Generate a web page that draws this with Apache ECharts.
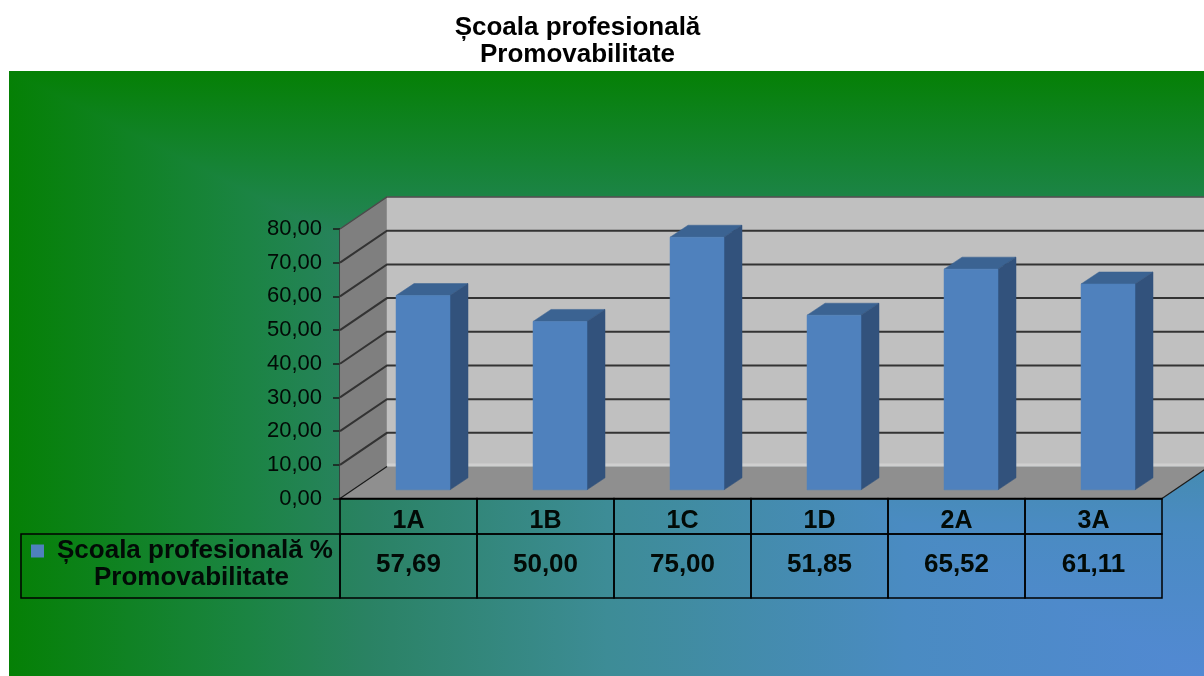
<!DOCTYPE html>
<html>
<head>
<meta charset="utf-8">
<style>html,body{margin:0;padding:0;background:#fff}#c{width:1204px;height:676px}</style>
<script src="https://cdn.jsdelivr.net/npm/echarts@6/dist/echarts.min.js"></script>
</head>
<body>
<div id="c"></div>
<script>
const titleText = 'Școala profesională\nPromovabilitate';
const seriesName = 'Școala profesională %';
const seriesName2 = 'Promovabilitate';
const categories = ['1A', '1B', '1C', '1D', '2A', '3A'];
const promovabilitate = [57.69, 50.00, 75.00, 51.85, 65.52, 61.11];
const yTicks = [0, 10, 20, 30, 40, 50, 60, 70, 80];

const FONT = '"Liberation Sans", Arial, sans-serif';
const TXT = '#020a06';
const DEPTH = [47, -32];
const stops = [
  { offset: 0, color: '#058005' },
  { offset: 0.2, color: '#1b8443' },
  { offset: 0.3, color: '#2a8263' },
  { offset: 0.5, color: '#3d8c96' },
  { offset: 0.75, color: '#4a8bc2' },
  { offset: 1, color: '#5289d3' }
];
const fmt = v => v.toFixed(2).replace('.', ',');
const poly = (pts, fill, z) => ({ type: 'polygon', shape: { points: pts }, style: { fill: fill, stroke: fill, lineWidth: 0.5 }, z2: z || 0 });
const line = (pts, color, w) => ({ type: 'polyline', shape: { points: pts }, style: { stroke: color, lineWidth: w, fill: null } });

const chart = echarts.init(document.getElementById('c'), null, { renderer: 'canvas' });
chart.setOption({
  animation: false,
  backgroundColor: '#ffffff',
  title: {
    text: titleText, left: 572.5, top: 9, textAlign: 'center',
    textStyle: { fontFamily: FONT, fontSize: 26, fontWeight: 'bold', color: '#000', lineHeight: 27 }
  },
  legend: {
    data: [seriesName], left: 31, top: 538, itemWidth: 13, itemHeight: 13, itemGap: 0,
    icon: 'rect', padding: 0, selectedMode: false,
    textStyle: { fontFamily: FONT, fontSize: 26, fontWeight: 'bold', color: TXT, padding: [0, 0, 0, 8] }
  },
  grid: { left: 340, top: 229, width: 822, height: 269.5 },
  xAxis: {
    type: 'category', data: categories,
    axisLine: { show: true, lineStyle: { color: '#000', width: 1.5 } },
    axisTick: { show: false },
    axisLabel: { margin: 10, interval: 0, fontFamily: FONT, fontSize: 25, fontWeight: 'bold', color: TXT }
  },
  yAxis: {
    type: 'value', min: 0, max: 80, interval: 10,
    axisLine: { show: true, lineStyle: { color: '#1a1a1a', width: 1.5 } },
    axisTick: { show: true, length: 7, lineStyle: { color: '#1a1a1a', width: 1.5 } },
    splitLine: { show: false },
    axisLabel: { margin: 18, formatter: fmt, fontFamily: FONT, fontSize: 22, color: TXT, padding: [3, 0, 0, 0] }
  },
  graphic: [
    { type: 'rect', z: 0, shape: { x: 9, y: 71, width: 1195, height: 605 },
      style: { fill: { type: 'linear', x: 0, y: 71, x2: 0, y2: 676, global: true, colorStops: stops } } },
    { type: 'polygon', z: 0, shape: { points: [[9, 71], [1204, 676], [9, 676]] },
      style: { fill: { type: 'linear', x: 9, y: 0, x2: 1204, y2: 0, global: true, colorStops: stops } } },
    { type: 'rect', z: 3, shape: { x: 21, y: 534, width: 319, height: 64 },
      style: { fill: 'transparent', stroke: '#000', lineWidth: 1.5 } },
    { type: 'text', z: 5, x: 191.5, y: 578,
      style: { text: seriesName2, fontFamily: FONT, fontSize: 26, fontWeight: 'bold', fill: TXT, textAlign: 'center', textVerticalAlign: 'middle' } }
  ],
  series: [
    { // walls and floor
      type: 'custom', silent: true, z: 1, data: [[0, 0]], clip: false, encode: { x: 0, y: 1 },
      renderItem: (p, api) => {
        const band = api.size([1, 0])[0];
        const x0 = api.coord([0, 0])[0] - band / 2;
        const x1 = api.coord([categories.length - 1, 0])[0] + band / 2;
        const y0 = api.coord([0, 0])[1];
        const yT = api.coord([0, 80])[1];
        const [dx, dy] = DEPTH;
        return { type: 'group', children: [
          poly([[x0, y0], [x0 + dx, y0 + dy], [x0 + dx, yT + dy], [x0, yT]], '#7f7f7f'),
          poly([[x0 + dx, y0 + dy], [x1 + dx, y0 + dy], [x1 + dx, yT + dy], [x0 + dx, yT + dy]], '#c0c0c0'),
          poly([[x0, y0], [x1, y0], [x1 + dx, y0 + dy], [x0 + dx, y0 + dy]], '#8f8f8f'),
          line([[x0 + dx, y0 + dy - 1.5], [x1 + dx, y0 + dy - 1.5]], '#cfcfcf', 3),
          line([[x0, y0], [x0 + dx, y0 + dy]], '#1a1a1a', 1.2),
          line([[x1, y0], [x1 + dx, y0 + dy]], '#1a1a1a', 1.2)
        ] };
      }
    },
    { // grid lines on the side and back walls
      type: 'custom', silent: true, z: 2, clip: false, encode: { x: 0, y: 1 },
      data: yTicks.filter(v => v > 0).map(v => [0, v]),
      renderItem: (p, api) => {
        const band = api.size([1, 0])[0];
        const val = api.value(1);
        const c = api.coord([0, val]);
        const x0 = c[0] - band / 2;
        const x1 = api.coord([categories.length - 1, 0])[0] + band / 2;
        const [dx, dy] = DEPTH;
        return line([[x0, c[1]], [x0 + dx, c[1] + dy], [x1 + dx, c[1] + dy]], val === 80 ? '#4a4a4a' : '#333333', val === 80 ? 1.5 : 2);
      }
    },
    { // 3D columns
      name: seriesName, type: 'custom', silent: true, z: 3, clip: false,
      itemStyle: { color: '#4f81bd' }, encode: { x: 0, y: 1 },
      data: promovabilitate.map((v, i) => [i, v]),
      renderItem: (p, api) => {
        const band = api.size([1, 0])[0];
        const top = api.coord([api.value(0), api.value(1)]);
        const bottom = api.coord([api.value(0), 0]);
        const w = band * 0.394, cx = top[0] + band * 0.106, l = cx - w / 2, r = cx + w / 2;
        const lift = DEPTH[1] * 0.27, sx = DEPTH[0] * 0.383, sy = DEPTH[1] * 0.375;
        const yt = top[1] + lift, yb = bottom[1] + lift;
        return { type: 'group', children: [
          poly([[l, yt], [r, yt], [r + sx, yt + sy], [l + sx, yt + sy]], '#3b6392'),
          poly([[r, yt], [r + sx, yt + sy], [r + sx, yb + sy], [r, yb]], '#32527c'),
          poly([[l, yt], [r, yt], [r, yb], [l, yb]], '#4f81bd')
        ] };
      }
    },
    { // data table
      type: 'custom', silent: true, z: 4, clip: false, encode: { x: 0, y: 1 },
      data: promovabilitate.map((v, i) => [i, v]),
      renderItem: (p, api) => {
        const band = api.size([1, 0])[0];
        const cx = api.coord([api.value(0), 0])[0];
        const y0 = api.coord([0, 0])[1];
        const l = cx - band / 2;
        return { type: 'group', children: [
          { type: 'rect', shape: { x: l, y: y0, width: band, height: 35.5 }, style: { fill: 'transparent', stroke: '#000', lineWidth: 1.5 } },
          { type: 'rect', shape: { x: l, y: y0 + 35.5, width: band, height: 64 }, style: { fill: 'transparent', stroke: '#000', lineWidth: 1.5 } },
          { type: 'text', x: cx, y: y0 + 66, style: { text: fmt(api.value(1)), fontFamily: FONT, fontSize: 26, fontWeight: 'bold', fill: TXT, textAlign: 'center', textVerticalAlign: 'middle' } }
        ] };
      }
    }
  ]
});
</script>
</body>
</html>
